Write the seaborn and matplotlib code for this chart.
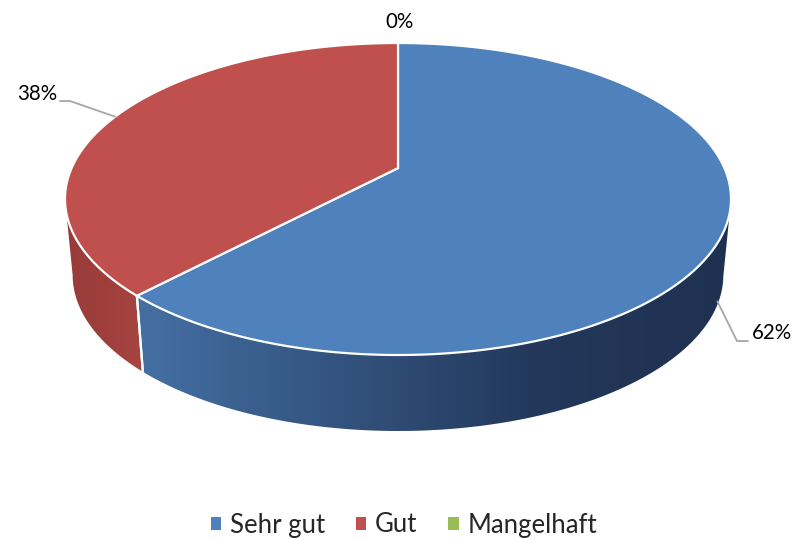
import numpy as np
import matplotlib
matplotlib.use("Agg")
import matplotlib.pyplot as plt
import seaborn as sns
from matplotlib.patches import Polygon, Patch

# ---------------------------------------------------------
# Daten
# ---------------------------------------------------------
kategorien = ["Sehr gut", "Gut", "Mangelhaft"]
werte = [62, 38, 0]

# Farben (Office-Thema)
farben_oben = ["#4F81BD", "#C0504D", "#9BBB59"]
farben_seite = [["#456FA3", "#33547F", "#23385B", "#1F3150"],
                ["#983B38", "#A64441"],
                ["#7A9446", "#86A24D"]]

sns.set_theme(style="white")
plt.rcParams["font.family"] = ["Lato", "DejaVu Sans"]

# ---------------------------------------------------------
# Geometrie der 3D-Torte (Pixel-Koordinaten)
# ---------------------------------------------------------
cx, cy = 398, 199      # Mitte der oberen Ellipse
rx, ry = 333, 156      # Halbachsen
tiefe = 76             # Höhe der Seitenwand
persp = 0.10           # Perspektive (hinten gestaucht)
unten_skala = 0.977    # Boden etwas schmaler (fluchtende Kanten)


def sicht_winkel(theta):
    """wahrer Winkel (Grad, im Uhrzeigersinn ab 12 Uhr) -> Bildwinkel (rad)"""
    z = np.exp(1j * np.radians(90 - np.asarray(theta, dtype=float)))
    a = 1j * persp
    w = (z + a) / (1 + np.conj(a) * z)
    return np.angle(w)


def rand(theta):
    ang = sicht_winkel(theta)
    return cx + rx * np.cos(ang), cy - ry * np.sin(ang), ang


def boden(x, y):
    return cx + (x - cx) * unten_skala, y + tiefe


d = 2 * persp / (1 + persp ** 2)
spitze = (cx, cy - ry * d)

fig = plt.figure(figsize=(7.99, 5.39), dpi=100)
ax = fig.add_axes([0, 0, 1, 1])
ax.set_xlim(0, 799)
ax.set_ylim(539, 0)
ax.axis("off")

anteile = np.array(werte, dtype=float) / sum(werte)
grenzen = np.concatenate([[0], np.cumsum(anteile) * 360])

# Seitenwände
kanten = []
for i in range(len(werte)):
    t0, t1 = grenzen[i], grenzen[i + 1]
    if t1 - t0 <= 0:
        continue
    th = np.linspace(t0, t1, 400)
    x, y, ang = rand(th)
    vorne = np.sin(ang) <= 0
    if vorne.sum() < 2:
        continue
    xs, ys = x[vorne], y[vorne]
    bx, by = boden(xs, ys)
    pts = np.column_stack([np.concatenate([xs, bx[::-1]]),
                           np.concatenate([ys, by[::-1]])])
    poly = Polygon(pts, closed=True, facecolor="none", edgecolor="none")
    ax.add_patch(poly)
    cmap = sns.blend_palette(farben_seite[i], as_cmap=True)
    grad = np.linspace(0, 1, 256).reshape(1, -1)
    im = ax.imshow(grad, cmap=cmap, aspect="auto",
                   extent=[min(xs.min(), bx.min()), max(xs.max(), bx.max()),
                           by.max(), ys.min()],
                   zorder=1, interpolation="bicubic")
    im.set_clip_path(poly)
    for k in (0, -1):
        if abs(np.cos(ang[vorne][k])) < 0.999:
            kanten.append(([xs[k], bx[k]], [ys[k], by[k]]))

# Kanten zwischen Segmenten an der Wand
for kx, ky in kanten:
    ax.plot(kx, ky, color="white", lw=1.6, zorder=2.5,
            solid_capstyle="butt")

# Deckfläche
for i in range(len(werte)):
    t0, t1 = grenzen[i], grenzen[i + 1]
    if t1 - t0 <= 0:
        continue
    th = np.linspace(t0, t1, 400)
    x, y, _ = rand(th)
    pts = np.column_stack([np.concatenate([[spitze[0]], x]),
                           np.concatenate([[spitze[1]], y])])
    ax.add_patch(Polygon(pts, closed=True, facecolor=farben_oben[i],
                         edgecolor="white", lw=1.6, zorder=3,
                         joinstyle="miter"))

# Beschriftungen
text_pos = [(752, 333, "left"), (57, 94, "right"), (399, 22, "center")]
knick = [[(737, 341), (748, 341)], [(70, 101), (60, 101)], []]
for i, v in enumerate(werte):
    mitte = (grenzen[i] + grenzen[i + 1]) / 2
    x, y, ang = rand(mitte)
    if np.sin(ang) < 0:
        y = y + tiefe * 0.97
        x = x - 8
    if knick[i]:
        lx = [x] + [p[0] for p in knick[i]]
        ly = [y] + [p[1] for p in knick[i]]
        ax.plot(lx, ly, color="#A6A6A6", lw=1.3, zorder=4)
    tx, ty, ha = text_pos[i]
    ax.text(tx, ty, f"{round(anteile[i] * 100):.0f}%", fontsize=14.8,
            ha=ha, va="center", color="black")

# Legende
griffe = [Patch(facecolor=c, edgecolor="none") for c in farben_oben]
fig.legend(griffe, kategorien, loc="center", ncol=3, frameon=False,
           bbox_to_anchor=(404 / 799, 1 - 525 / 539), fontsize=18.5,
           handlelength=0.4, handleheight=0.4, handletextpad=0.35,
           columnspacing=1.2)

fig.savefig("out.png", dpi=100)
